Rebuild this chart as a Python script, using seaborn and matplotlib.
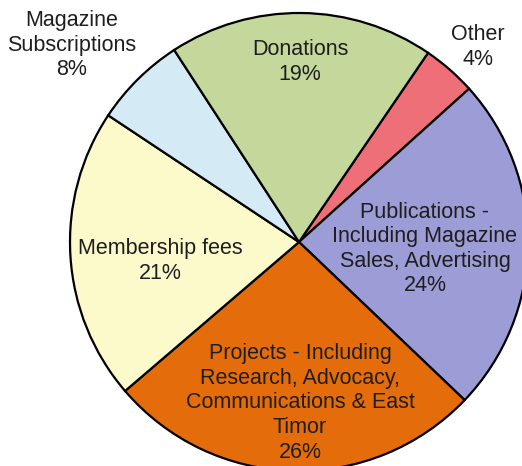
import matplotlib
matplotlib.use("Agg")
import matplotlib.pyplot as plt
import seaborn as sns

categories = ["Other", "Publications - Including Magazine Sales, Advertising",
              "Projects - Including Research, Advocacy, Communications & East Timor",
              "Membership fees", "Magazine Subscriptions", "Donations"]
shares = [3.8, 23.8, 26.6, 20.6, 6.5, 18.7]
label_texts = ["Other\n4%",
               "Publications -\nIncluding Magazine\nSales, Advertising\n24%",
               "Projects - Including\nResearch, Advocacy,\nCommunications & East\nTimor\n26%",
               "Membership fees\n21%",
               "Magazine\nSubscriptions\n8%",
               "Donations\n19%"]
colors = ["#EE6F78", "#9C9CD6", "#E46C0A", "#FCFACB", "#D4EAF5", "#C4D89C"]

sns.set_theme(style="white")
plt.rcParams['font.family'] = ['Liberation Sans', 'DejaVu Sans']

W, H, DPI = 522, 466, 100
fig = plt.figure(figsize=(W / DPI, H / DPI), dpi=DPI)
ax = fig.add_axes([0, 0, 1, 1])

cx, cy, R = 299, 242, 229  # pixel geometry of the pie
ax.pie(shares, colors=colors, startangle=55.7, counterclock=False,
       wedgeprops=dict(edgecolor="black", linewidth=1.6))

ax.set_aspect('auto')
ax.set_xlim(-cx / R, (W - cx) / R)
ax.set_ylim(-(H - cy) / R, cy / R)
ax.axis('off')

# label positions in pixel coords (x, y from top)
pos_px = [(478, 47), (425, 249), (300, 403), (160, 261), (72, 45), (300, 62)]
for txt, (px, py) in zip(label_texts, pos_px):
    ax.text((px - cx) / R, (cy - py) / R, txt, ha="center", va="center",
            fontsize=15.5, color="#1e1e1e", linespacing=1.22)

fig.savefig("out.png", dpi=DPI, facecolor="white")
